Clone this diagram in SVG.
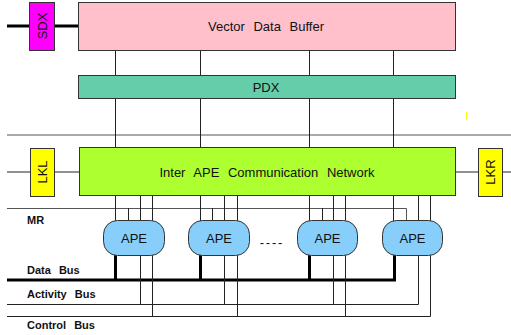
<svg xmlns="http://www.w3.org/2000/svg" width="511" height="335" viewBox="0 0 511 335">
<style>
.box{stroke:#333;stroke-width:1}
.t{font-family:"Liberation Sans",Arial,sans-serif;font-size:13px;fill:#111;text-anchor:middle}
.lbl{font-family:"Liberation Sans",Arial,sans-serif;font-size:11px;font-weight:bold;fill:#111;word-spacing:5px}
.ln{stroke:#222;stroke-width:1;fill:none}
.gl{stroke:#555;stroke-width:1;fill:none}
.thick{stroke:#000;stroke-width:3;fill:none}
</style>
<rect width="511" height="335" fill="#fff"/>
<g id="connectors">
  <line class="thick" x1="7" y1="26" x2="78" y2="26"/>
  <line class="gl" x1="7" y1="135" x2="511" y2="135"/>
  <line class="ln" x1="7" y1="172" x2="79" y2="172"/>
  <line class="ln" x1="455" y1="172" x2="511" y2="172"/>
  <path class="ln" d="M115.5 50V75M200.5 50V75M309.5 50V75M393.5 50V75M115.5 98V147M200.5 98V147M309.5 98V147M393.5 98V147"/>
  <path class="gl" d="M7 208.5H406.5V225"/>
  <path class="ln" d="M115.5 195V230M140.5 195V230M152.5 195V230M128.5 208V230
    M200.5 195V230M224.5 195V230M237.5 195V230M212.5 208V230
    M309.5 195V230M333.5 195V230M345.5 195V230M322.5 208V230
    M393.5 195V230M418.5 195V230M430.5 195V230"/>
  <path class="thick" d="M7 280H394.5V250M115.5 280V250M200.5 280V250M309.5 280V250"/>
  <path class="ln" d="M7 304.5H418.5V250M140.5 304.5V250M224.5 304.5V250M333.5 304.5V250"/>
  <path class="ln" d="M7 316.5H430.5V250M152.5 316.5V250M237.5 316.5V250M345.5 316.5V250"/>
  <line x1="466.5" y1="112" x2="466.5" y2="120" stroke="#ffff00" stroke-width="1"/>
</g>
<g id="sdx"><rect class="box" x="29.5" y="2.5" width="25" height="48" fill="#ff00ff"/><text class="t" transform="translate(46.5,26) rotate(-90)">SDX</text></g>
<g id="vdb"><rect class="box" x="78.5" y="2.5" width="377" height="48" fill="#ffc0cb"/><text class="t" x="266" y="31" style="word-spacing:5px">Vector Data Buffer</text></g>
<g id="pdx"><rect class="box" x="78.5" y="75.5" width="377" height="23" fill="#66cdaa"/><text class="t" x="266" y="92">PDX</text></g>
<g id="network"><rect class="box" x="79.5" y="147.5" width="376" height="48" fill="#adff2f"/><text class="t" x="267" y="177" style="word-spacing:5px">Inter APE Communication Network</text></g>
<g id="lkl"><rect class="box" x="30.5" y="148.5" width="24" height="48" fill="#ffff00"/><text class="t" transform="translate(47,172) rotate(-90)">LKL</text></g>
<g id="lkr"><rect class="box" x="478.5" y="148.5" width="24" height="48" fill="#ffff00"/><text class="t" transform="translate(495,172) rotate(-90)">LKR</text></g>
<g id="ape1"><rect class="box" x="103.5" y="220.5" width="61" height="35" rx="14" fill="#87cefa"/><text class="t" x="134" y="243">APE</text></g>
<g id="ape2"><rect class="box" x="188.5" y="220.5" width="61" height="35" rx="14" fill="#87cefa"/><text class="t" x="219" y="243">APE</text></g>
<g id="ape3"><rect class="box" x="297.5" y="220.5" width="60" height="35" rx="14" fill="#87cefa"/><text class="t" x="327.5" y="243">APE</text></g>
<g id="ape4"><rect class="box" x="382.5" y="220.5" width="60" height="35" rx="14" fill="#87cefa"/><text class="t" x="412.5" y="243">APE</text></g>
<text class="t" x="272" y="247" style="letter-spacing:1.8px">----</text>
<text class="lbl" x="27" y="224">MR</text>
<text class="lbl" x="27" y="274">Data Bus</text>
<text class="lbl" x="27" y="298">Activity Bus</text>
<text class="lbl" x="27" y="329">Control Bus</text>
</svg>
